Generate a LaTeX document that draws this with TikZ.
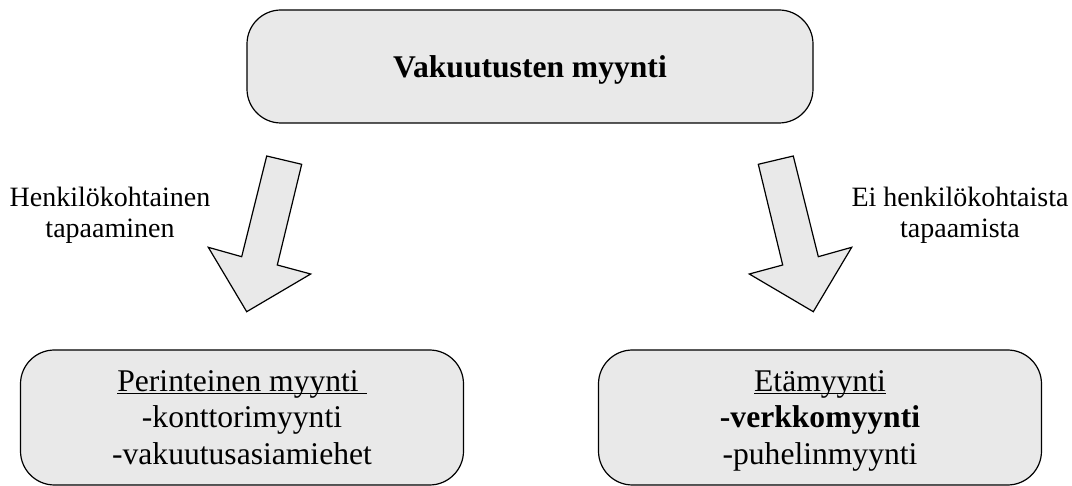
\documentclass[tikz,border=0pt]{standalone}
\usepackage{fontspec}
\setmainfont{Liberation Serif}
\usepackage{xcolor}
\usepackage{tikz}
\usetikzlibrary{calc}

\definecolor{boxgray}{RGB}{233,233,233}
% underline close to the baseline
\newcommand{\undl}[1]{\setbox0\hbox{#1}\rlap{\rule[-1.4pt]{\wd0}{0.6pt}}\box0}

\begin{document}
\begin{tikzpicture}[x=0.5pt, y=-0.5pt,
    salebox/.style={draw, line width=0.6pt, fill=boxgray, rounded corners=17pt,
      align=center, text depth=0pt, font=\fontsize{15.8}{18.3}\selectfont},
    bigarrow/.style={draw, line width=0.6pt, fill=boxgray, line join=miter},
    waylabel/.style={align=center, font=\fontsize{14}{15.5}\selectfont}]
  \useasboundingbox (0,0) rectangle (1072,486);
  % top box
  \node[salebox, minimum width=283pt, minimum height=56.5pt] (myynti) at (530,66.5)
    {\textbf{Vakuutusten myynti}};
  % arrows
  \begin{scope}[shift={(0,0)}]
    \draw[bigarrow] (266.7,156) -- (301.7,164.3) -- (277.3,265) -- (310.7,274)
      -- (246.7,311.7) -- (208.3,247.3) -- (241.7,256.7) -- cycle;
  \end{scope}
  \begin{scope}[shift={(1060,0)}, xscale=-1]
    \draw[bigarrow] (266.7,156) -- (301.7,164.3) -- (277.3,265) -- (310.7,274)
      -- (246.7,311.7) -- (208.3,247.3) -- (241.7,256.7) -- cycle;
  \end{scope}
  \node[waylabel] (kasvokkain) at (110,215) {Henkilökohtainen\\tapaaminen};
  \node[waylabel] (etana) at (960,215) {Ei henkilökohtaista\\tapaamista};
  % bottom boxes
  \node[salebox, minimum width=221.5pt, minimum height=67.5pt] (perinteinen) at (242,417.5)
    {\undl{Perinteinen myynti\ }\\-konttorimyynti\\-vakuutusasiamiehet};
  \node[salebox, minimum width=221.5pt, minimum height=67.5pt] (etamyynti) at (820,417.5)
    {\undl{Etämyynti}\\\textbf{-verkkomyynti}\\-puhelinmyynti};
\end{tikzpicture}
\end{document}
